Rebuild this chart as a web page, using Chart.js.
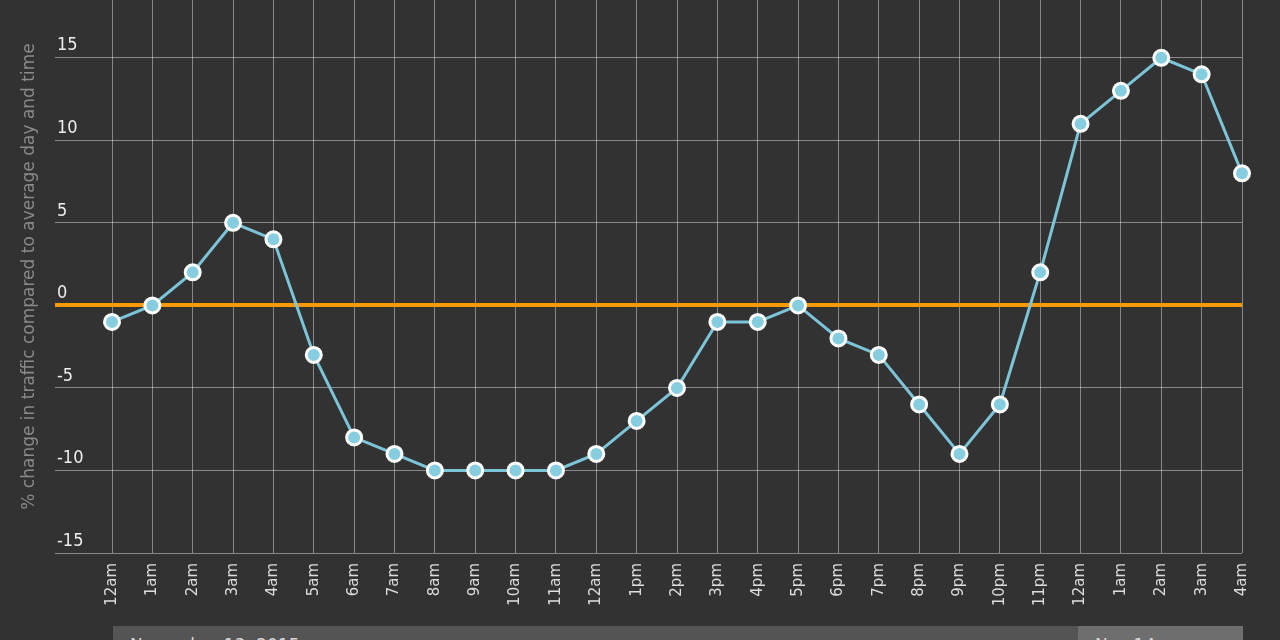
<!DOCTYPE html>
<html lang="en">
<head>
<meta charset="UTF-8">
<title>Traffic change by hour</title>
<script src="https://cdn.jsdelivr.net/npm/chart.js"></script>
<style>
body{margin:0;background:#323232;overflow:hidden}
.wrap{position:relative;width:1280px;height:640px}
.day{position:absolute;top:626px;height:40px;box-sizing:border-box;padding:9px 0 0 17px;
     font-family:"DejaVu Sans",sans-serif;font-size:17px;color:#d8d8d8;white-space:nowrap;overflow:hidden}
#day1{left:113px;width:965px;background:#545454}
#day2{left:1078px;width:165px;background:#6e6e6e}
</style>
</head>
<body>
<div class="wrap">
    <canvas id="trafficChart" width="1280" height="640"></canvas>
    <div class="day" id="day1"></div>
    <div class="day" id="day2"></div>
</div>

<script>
/* --- data --- */
const hours=['12am','1am','2am','3am','4am','5am','6am','7am','8am','9am','10am','11am',
             '12am','1pm','2pm','3pm','4pm','5pm','6pm','7pm','8pm','9pm','10pm','11pm',
             '12am','1am','2am','3am','4am'];
const trafficChange=[-1,0,2,5,4,-3,-8,-9,-10,-10,-10,-10,-9,-7,-5,-1,-1,0,-2,-3,-6,-9,-6,2,11,13,15,14,8];
const yTicks=[-15,-10,-5,0,5,10,15];
const yMin=-15, yMax=18.5;
const dayLabels=['November 13, 2015','Nov 14'];

document.getElementById('day1').textContent=dayLabels[0];
document.getElementById('day2').textContent=dayLabels[1];

const gridColor='rgba(255,255,255,0.42)';

new Chart(document.getElementById('trafficChart').getContext('2d'),{
    type:'line',
    data:{labels:hours,
          datasets:[{data:trafficChange,borderColor:'#7cc5d9',borderWidth:3,tension:0,clip:false,
                     pointRadius:7.5,pointHoverRadius:7.5,pointBackgroundColor:'#86cde0',
                     pointBorderColor:'#fff',pointBorderWidth:3}]},
    options:{
        responsive:false,animation:false,
        layout:{autoPadding:false,padding:{top:0,right:38,bottom:0,left:0}},
        plugins:{legend:{display:false},tooltip:{enabled:false}},
        scales:{
            x:{grid:{color:gridColor,drawTicks:false},border:{display:false},
               ticks:{autoSkip:false,minRotation:90,maxRotation:90,padding:10,color:'#dcdcdc',
                      font:{family:'DejaVu Sans',size:15}},
               afterFit:s=>{s.height=87;}},
            y:{min:yMin,max:yMax,
               afterBuildTicks:s=>{s.ticks=yTicks.map(v=>({value:v}));},
               grid:{color:c=>c.tick&&c.tick.value===0?'#ff9900':gridColor,
                     lineWidth:c=>c.tick&&c.tick.value===0?4:1,tickLength:57},
               border:{display:false},
               ticks:{mirror:true,padding:-55,align:'end',labelOffset:-3,color:'#eeeeee',
                      font:{family:'"Liberation Sans Narrow","DejaVu Sans Condensed",sans-serif',size:18}},
               title:{display:true,text:'% change in traffic compared to average day and time',
                      color:'#8a8a8a',font:{family:'DejaVu Sans',size:17},padding:{top:19,bottom:0}},
               afterFit:s=>{s.width=112;s.paddingTop=0;s.paddingBottom=0;}}
        }
    }
});
</script>
</body>
</html>
